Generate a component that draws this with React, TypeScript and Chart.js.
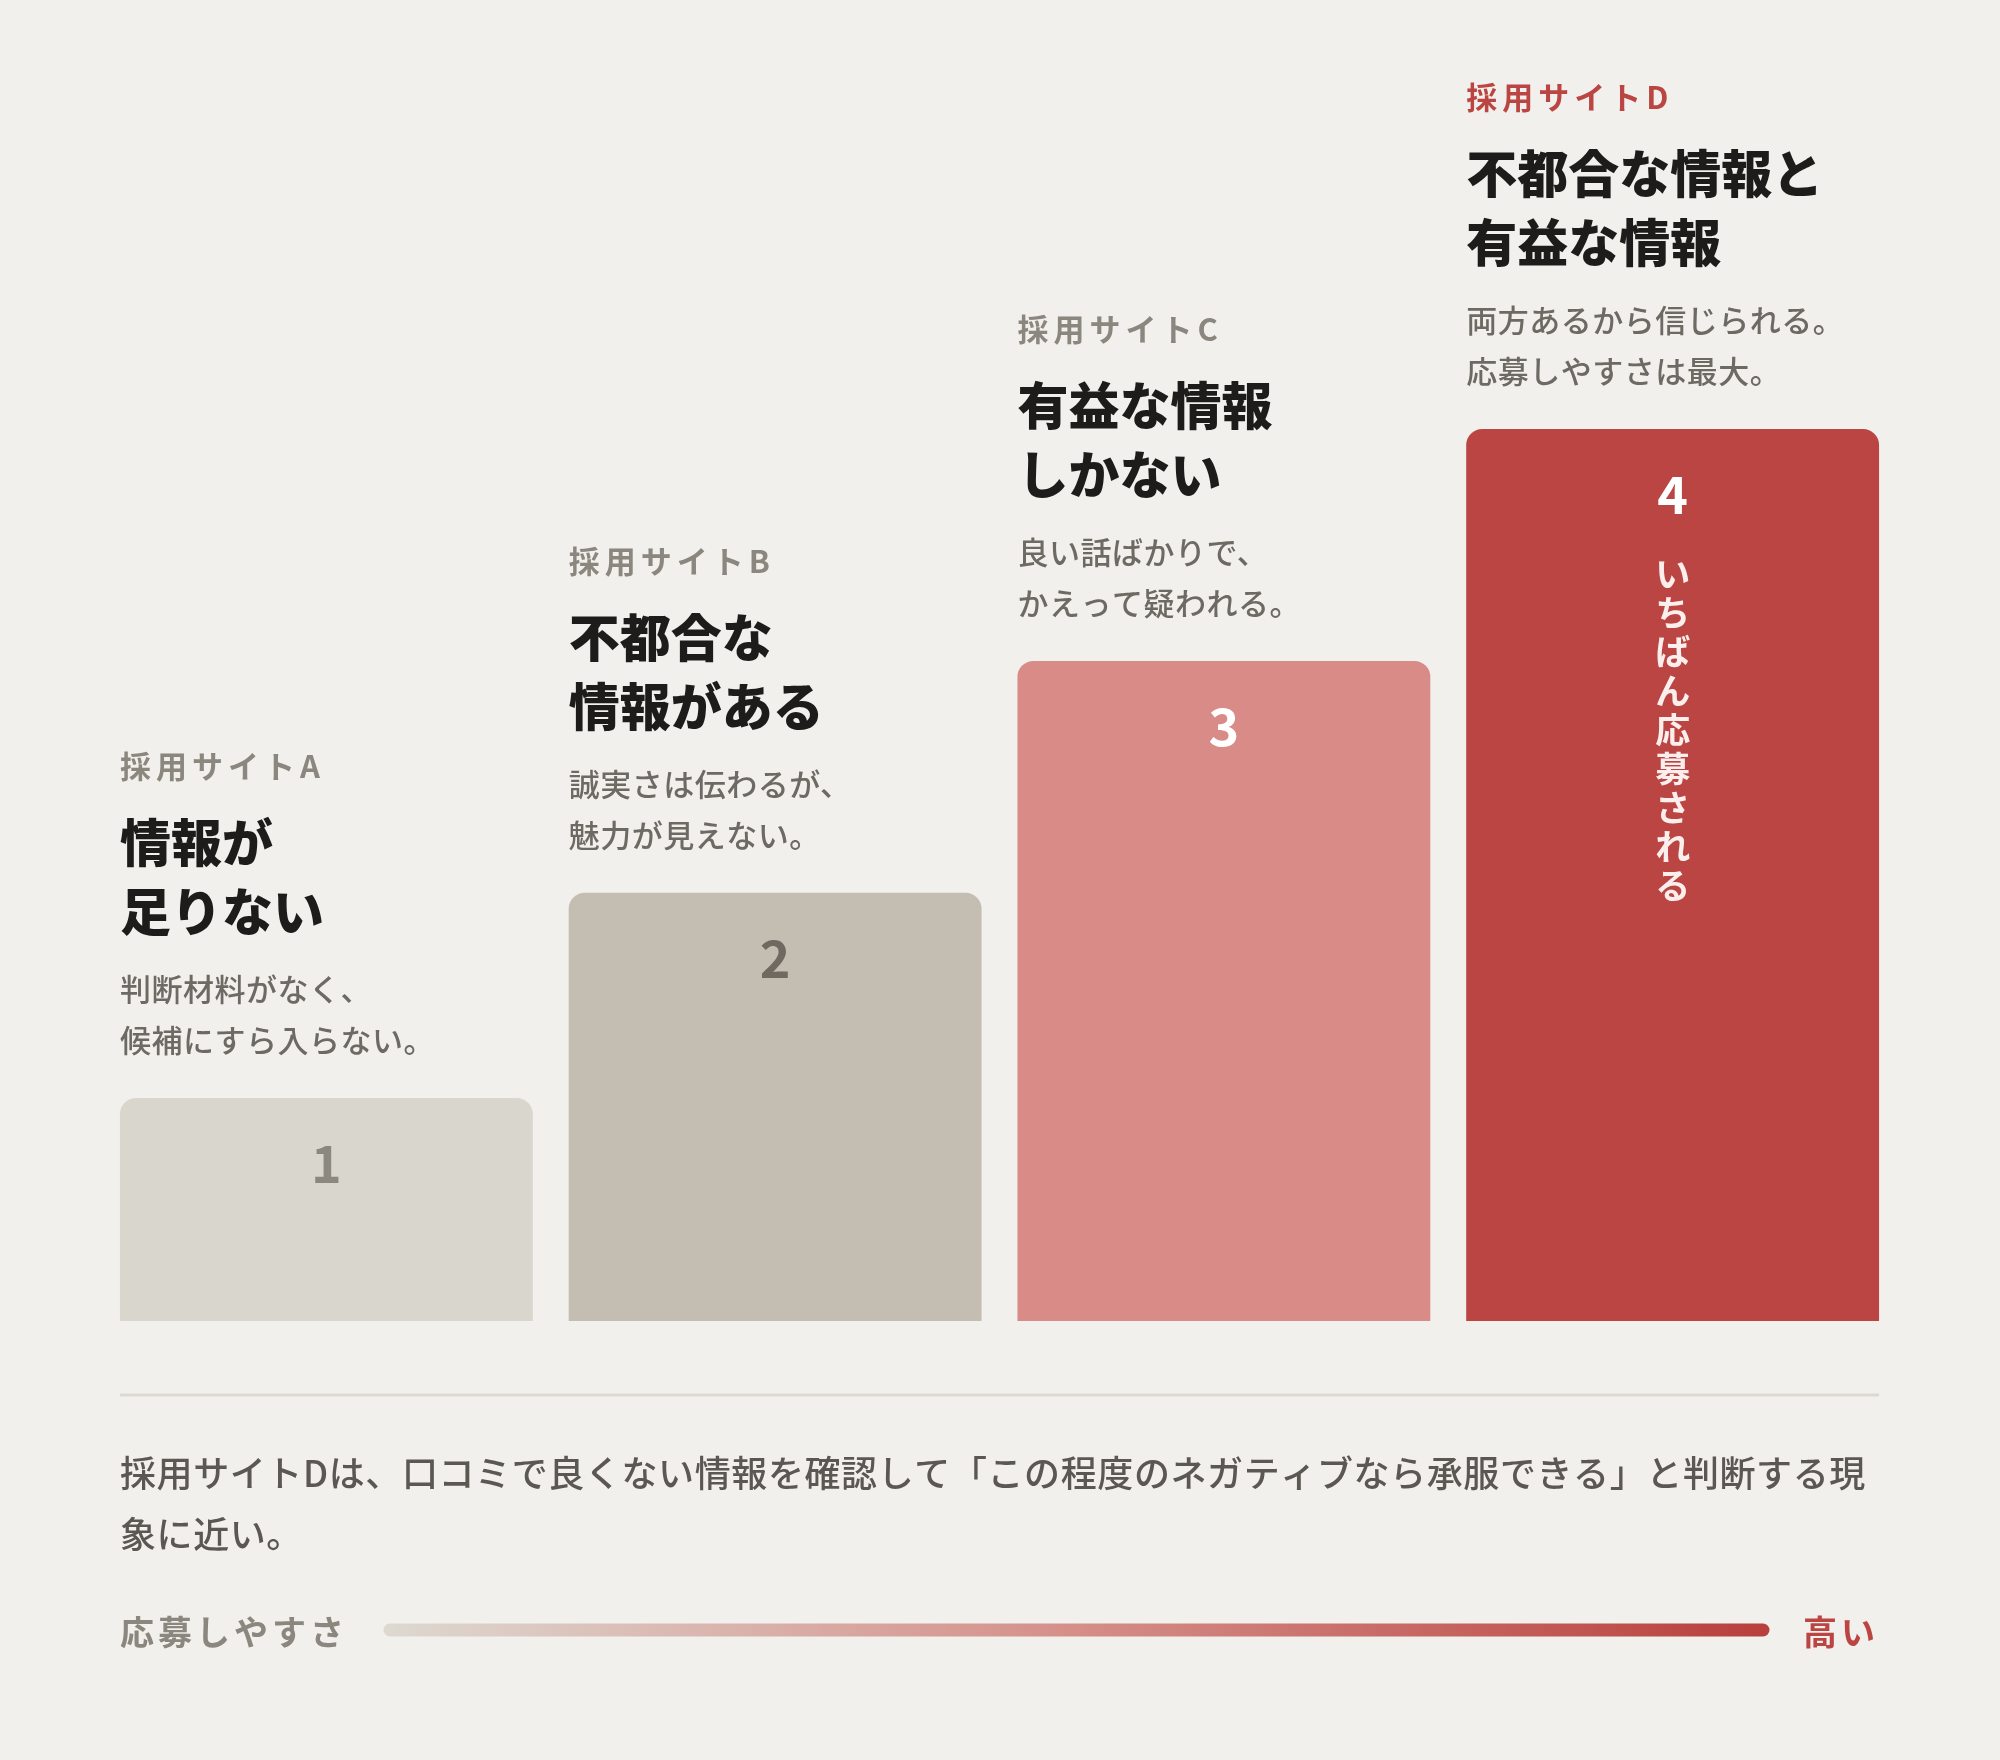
import { useEffect, useRef } from "react"
import { Chart, registerables } from "chart.js"

Chart.register(...registerables)

// chart data
const sites = ["採用サイトA", "採用サイトB", "採用サイトC", "採用サイトD"]
const ease = [25, 48, 74, 100]
const ranks = ["1", "2", "3", "4"]
const titles = [
  ["情報が", "足りない"],
  ["不都合な", "情報がある"],
  ["有益な情報", "しかない"],
  ["不都合な情報と", "有益な情報"],
]
const notes = [
  ["判断材料がなく、", "候補にすら入らない。"],
  ["誠実さは伝わるが、", "魅力が見えない。"],
  ["良い話ばかりで、", "かえって疑われる。"],
  ["両方あるから信じられる。", "応募しやすさは最大。"],
]
const topNote = "いちばん応募される"
const footnote = [
  "採用サイトDは、口コミで良くない情報を確認して「この程度のネガティブなら承服できる」と判断する現",
  "象に近い。",
]
const scaleLabel = "応募しやすさ"
const scaleHigh = "高い"

const barColors = ["#d9d6ce", "#c4bdb1", "#d98c87", "#bb4542"]
const rankColors = ["#8c887f", "#6f6a61", "#ffffff", "#ffffff"]
const siteColors = ["#8b877f", "#8b877f", "#8b877f", "#bb4542"]

const FONT = '"Noto Sans CJK JP", "Noto Sans", sans-serif'
const BG = "#f1f0ec"

const annotations = {
  id: "annotations",
  afterDraw(chart: Chart) {
    const ctx = chart.ctx
    const meta = chart.getDatasetMeta(0)
    ctx.save()
    ctx.textBaseline = "middle"

    meta.data.forEach((bar: any, i: number) => {
      const left = bar.x - bar.width / 2
      const top = bar.y
      ctx.textAlign = "left"

      ctx.font = `700 31px ${FONT}`
      ctx.fillStyle = siteColors[i]
      ;(ctx as any).letterSpacing = "5px"
      ctx.fillText(sites[i], left, top - 332)

      ctx.font = `900 51px ${FONT}`
      ctx.fillStyle = "#1d1c1a"
      ;(ctx as any).letterSpacing = "0px"
      ctx.fillText(titles[i][0], left, top - 255)
      ctx.fillText(titles[i][1], left, top - 186)

      ctx.font = `500 31px ${FONT}`
      ctx.fillStyle = "#6d6a64"
      ;(ctx as any).letterSpacing = "0.5px"
      ctx.fillText(notes[i][0], left, top - 109)
      ctx.fillText(notes[i][1], left, top - 58)

      ctx.textAlign = "center"
      ;(ctx as any).letterSpacing = "0px"
      ctx.font = `700 52px ${FONT}`
      ctx.fillStyle = rankColors[i]
      ctx.fillText(ranks[i], bar.x, top + 65)

      if (i === meta.data.length - 1) {
        ctx.font = `700 35px ${FONT}`
        ctx.fillStyle = "#fbefee"
        Array.from(topNote).forEach((ch, k) => {
          ctx.fillText(ch, bar.x, top + 145 + k * 39)
        })
      }
    })

    const first: any = meta.data[0]
    const last: any = meta.data[meta.data.length - 1]
    const x0 = first.x - first.width / 2
    const x1 = last.x + last.width / 2
    const base = chart.chartArea.bottom

    // separator
    ctx.strokeStyle = "#dcd9d3"
    ctx.lineWidth = 3
    ctx.beginPath()
    ctx.moveTo(x0, base + 74)
    ctx.lineTo(x1, base + 74)
    ctx.stroke()

    // footnote
    ctx.textAlign = "left"
    ctx.font = `500 36px ${FONT}`
    ctx.fillStyle = "#5b5853"
    ;(ctx as any).letterSpacing = "0.6px"
    ctx.fillText(footnote[0], x0, base + 152)
    ctx.fillText(footnote[1], x0, base + 213)

    // scale bar
    const sy = base + 309
    ctx.font = `700 34px ${FONT}`
    ctx.fillStyle = "#8b877f"
    ;(ctx as any).letterSpacing = "4px"
    ctx.fillText(scaleLabel, x0, sy + 2)
    ctx.textAlign = "right"
    ctx.fillStyle = "#bb4542"
    ctx.fillText(scaleHigh, x1, sy + 2)
    ;(ctx as any).letterSpacing = "0px"

    const gx0 = 390
    const gx1 = 1763
    const grad = ctx.createLinearGradient(gx0, 0, gx1, 0)
    grad.addColorStop(0, "#ddd8d0")
    grad.addColorStop(0.5, "#d58e88")
    grad.addColorStop(1, "#b8403d")
    ctx.strokeStyle = grad
    ctx.lineWidth = 13
    ctx.lineCap = "round"
    ctx.beginPath()
    ctx.moveTo(gx0, sy)
    ctx.lineTo(gx1, sy)
    ctx.stroke()

    ctx.restore()
  },
}

export default function App() {
  const chartRef = useRef<HTMLCanvasElement>(null)
  const chartInstance = useRef<Chart | null>(null)

  useEffect(() => {
    document.body.style.margin = "0"
    document.body.style.background = BG
    if (!chartRef.current) return

    if (chartInstance.current) {
      chartInstance.current.destroy()
    }

    const ctx = chartRef.current.getContext("2d")
    if (!ctx) return

    chartInstance.current = new Chart(ctx, {
      type: "bar",
      data: {
        labels: sites,
        datasets: [
          {
            label: scaleLabel,
            data: ease,
            backgroundColor: barColors,
            borderRadius: { topLeft: 16, topRight: 16, bottomLeft: 0, bottomRight: 0 },
            borderSkipped: false,
            categoryPercentage: 1,
            barPercentage: 0.92,
          },
        ],
      },
      options: {
        responsive: false,
        animation: false,
        devicePixelRatio: 1,
        layout: {
          padding: { left: 102, right: 103, top: 429, bottom: 439 },
        },
        plugins: {
          legend: { display: false },
          tooltip: { enabled: false },
        },
        scales: {
          x: { display: false },
          y: { display: false, min: 0, max: 100 },
        },
      },
      plugins: [annotations],
    })

    return () => {
      if (chartInstance.current) {
        chartInstance.current.destroy()
        chartInstance.current = null
      }
    }
  }, [])

  return (
    <div style={{ width: 2000, height: 1760, background: BG }}>
      <canvas ref={chartRef} width={2000} height={1760} style={{ display: "block" }} />
    </div>
  )
}
